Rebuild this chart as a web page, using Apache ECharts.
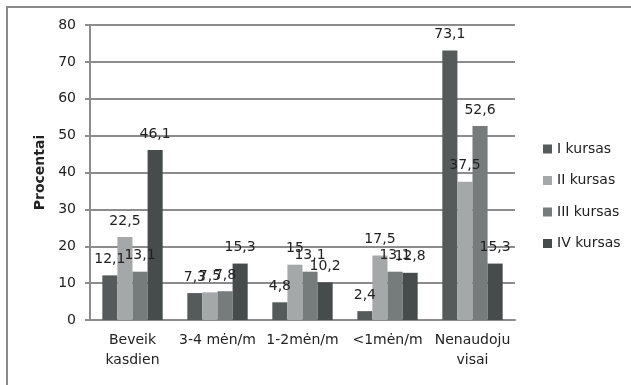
<!DOCTYPE html>
<html><head><meta charset="utf-8">
<script src="https://cdn.jsdelivr.net/npm/echarts@6/dist/echarts.min.js"></script>
<style>html,body{margin:0;padding:0;background:#fff}#c{width:631px;height:385px}</style>
</head><body><div id="c"></div>
<script>
const categories = ['Beveik\nkasdien', '3-4 mėn/m', '1-2mėn/m', '<1mėn/m', 'Nenaudoju\nvisai'];
const seriesNames = ['I kursas', 'II kursas', 'III kursas', 'IV kursas'];
const kursasI = [12.1, 7.3, 4.8, 2.4, 73.1];
const kursasII = [22.5, 7.5, 15, 17.5, 37.5];
const kursasIII = [13.1, 7.8, 13.1, 13.1, 52.6];
const kursasIV = [46.1, 15.3, 10.2, 12.8, 15.3];
const yTicks = [0, 10, 20, 30, 40, 50, 60, 70, 80];

const values = [kursasI, kursasII, kursasIII, kursasIV];
const colors = ['#555a5a', '#a5a8a8', '#767b7b', '#464b4b'];
const FONT = 'DejaVu Sans';
const FS = 14;
const chart = echarts.init(document.getElementById('c'), null, {renderer: 'canvas'});
chart.setOption({
  animation: false,
  backgroundColor: '#fff',
  textStyle: {fontFamily: FONT},
  graphic: [
    {type: 'line', shape: {x1: 6, y1: 7, x2: 631, y2: 7}, style: {stroke: '#8a8a8a', lineWidth: 2}, silent: true},
    {type: 'line', shape: {x1: 7, y1: 6, x2: 7, y2: 385}, style: {stroke: '#8a8a8a', lineWidth: 2}, silent: true}
  ],
  grid: {left: 90, right: 116, top: 25, bottom: 65, containLabel: false},
  legend: {
    orient: 'vertical', left: 538, top: 137,
    itemWidth: 9, itemHeight: 9, itemGap: 17.5,
    icon: 'rect',
    textStyle: {fontFamily: FONT, fontSize: FS, color: '#222'},
    data: seriesNames
  },
  xAxis: {
    type: 'category', data: categories,
    axisLine: {lineStyle: {color: '#8c8c8c', width: 2}},
    axisTick: {show: false},
    axisLabel: {fontFamily: FONT, fontSize: FS, color: '#222', margin: 10, lineHeight: 20, interval: 0}
  },
  yAxis: {
    type: 'value', min: yTicks[0], max: yTicks[yTicks.length - 1], interval: 10,
    name: 'Procentai', nameLocation: 'middle', nameGap: 41, nameRotate: 90,
    nameTextStyle: {fontFamily: FONT, fontSize: FS, fontWeight: 'bold', color: '#222'},
    axisLine: {show: true, lineStyle: {color: '#8c8c8c', width: 2}},
    axisTick: {show: true, length: 5, lineStyle: {color: '#8c8c8c', width: 2}},
    splitLine: {lineStyle: {color: '#8c8c8c', width: 2}},
    axisLabel: {fontFamily: FONT, fontSize: FS, color: '#222', margin: 14}
  },
  series: seriesNames.map((n, i) => ({
    name: n, type: 'bar', data: values[i],
    barGap: '0%', barCategoryGap: '29%',
    itemStyle: {color: colors[i]},
    label: {show: true, position: 'top', distance: 9, fontFamily: FONT, fontSize: FS, color: '#222',
      formatter: p => String(p.value).replace('.', ',')}
  }))
});
</script></body></html>
